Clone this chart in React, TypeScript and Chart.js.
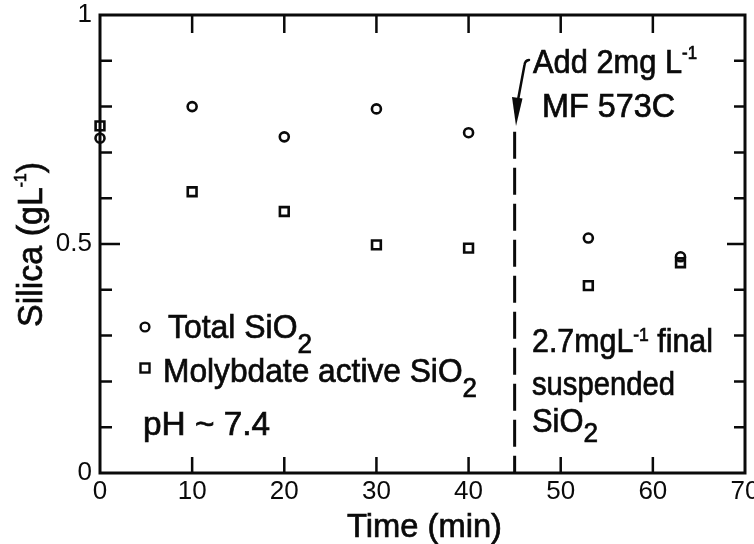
import React, { useEffect, useRef } from "react";
import { Chart, registerables } from "chart.js";

Chart.register(...registerables);

// ---- data ----
const times = [0, 10, 20, 30, 40, 53, 63];
const totalSiO2 = [0.731, 0.8, 0.734, 0.795, 0.743, 0.513, 0.472];
const molybdateSiO2 = [0.758, 0.614, 0.571, 0.498, 0.491, 0.409, 0.459];
const xTickValues = [0, 10, 20, 30, 40, 50, 60, 70];
const yLabelValues = [0, 0.5, 1];
const yLabelTexts = ["0", "0.5", "1"];
const yMinorValues = [0.1, 0.2, 0.3, 0.4, 0.5, 0.6, 0.7, 0.8, 0.9];
const additionTime = 45;
const dashTopValue = 0.745;

const FONT = '"Liberation Sans", Arial, sans-serif';
const INK = "#0a0a0a";

type Seg = { t: string; size: number; dy?: number };

function richText(
  ctx: CanvasRenderingContext2D,
  segs: Seg[],
  start: number,
  end: number,
  base: number,
  vertical = false
) {
  ctx.save();
  ctx.textAlign = "left";
  ctx.textBaseline = "alphabetic";
  ctx.fillStyle = INK;
  ctx.strokeStyle = INK;
  ctx.lineWidth = 0.7;
  const widths = segs.map((s) => {
    ctx.font = `${s.size}px ${FONT}`;
    return ctx.measureText(s.t).width;
  });
  const total = widths.reduce((a, b) => a + b, 0);
  const span = Math.abs(end - start);
  const sx = span / total;
  if (vertical) {
    ctx.translate(base, start);
    ctx.rotate(-Math.PI / 2);
  } else {
    ctx.translate(start, base);
  }
  ctx.scale(sx, 1);
  let x = 0;
  segs.forEach((s, i) => {
    ctx.font = `${s.size}px ${FONT}`;
    ctx.fillText(s.t, x, s.dy || 0);
    ctx.strokeText(s.t, x, s.dy || 0);
    x += widths[i];
  });
  ctx.restore();
}

const framePlugin = {
  id: "frameAndTicks",
  beforeDatasetsDraw(chart: any) {
    const ctx: CanvasRenderingContext2D = chart.ctx;
    const { left, right, top, bottom } = chart.chartArea;
    const xs = chart.scales.x;
    const ys = chart.scales.y;
    ctx.save();
    ctx.strokeStyle = INK;
    ctx.lineWidth = 3;
    ctx.strokeRect(left, top, right - left, bottom - top);
    ctx.lineWidth = 2.5;
    ctx.beginPath();
    xTickValues.forEach((v) => {
      if (v <= 0 || v >= 70) return;
      const px = xs.getPixelForValue(v);
      ctx.moveTo(px, bottom);
      ctx.lineTo(px, bottom - 16);
      ctx.moveTo(px, top);
      ctx.lineTo(px, top + 18);
    });
    yMinorValues.forEach((v) => {
      const py = ys.getPixelForValue(v);
      const major = Math.abs(v - 0.5) < 1e-6;
      ctx.moveTo(left, py);
      ctx.lineTo(left + (major ? 20 : 12), py);
      ctx.moveTo(right, py);
      ctx.lineTo(right - (major ? 18 : 11), py);
    });
    ctx.stroke();

    // dashed line at addition time
    const dx = xs.getPixelForValue(additionTime);
    ctx.lineWidth = 3;
    ctx.setLineDash([27, 9]);
    ctx.beginPath();
    ctx.moveTo(dx, ys.getPixelForValue(dashTopValue));
    ctx.lineTo(dx, bottom);
    ctx.stroke();
    ctx.setLineDash([]);
    ctx.restore();
  },
  afterDraw(chart: any) {
    const ctx: CanvasRenderingContext2D = chart.ctx;
    ctx.save();
    // arrow
    ctx.strokeStyle = INK;
    ctx.fillStyle = INK;
    ctx.lineWidth = 2.5;
    ctx.lineCap = "round";
    ctx.beginPath();
    ctx.moveTo(529, 60);
    ctx.quadraticCurveTo(525, 60.5, 524.5, 65);
    ctx.lineTo(518, 100);
    ctx.stroke();
    ctx.beginPath();
    ctx.moveTo(512, 97);
    ctx.lineTo(522.5, 98.5);
    ctx.lineTo(516, 126);
    ctx.closePath();
    ctx.fill();

    // legend markers
    ctx.lineWidth = 2.4;
    ctx.beginPath();
    ctx.arc(145, 327, 4.4, 0, Math.PI * 2);
    ctx.stroke();
    ctx.strokeRect(140.5, 363.5, 9, 9);
    ctx.restore();

    // annotation texts
    richText(ctx, [{ t: "Add 2mg L", size: 33 }, { t: "-1", size: 18, dy: -14 }], 533, 697, 73);
    richText(ctx, [{ t: "MF 573C", size: 33 }], 542, 675, 117);

    richText(ctx, [{ t: "Total SiO", size: 33 }, { t: "2", size: 27, dy: 15 }], 168, 312, 338);
    richText(ctx, [{ t: "Molybdate active SiO", size: 33 }, { t: "2", size: 27, dy: 15 }], 163, 477, 382);
    richText(ctx, [{ t: "pH ~ 7.4", size: 33 }], 143, 270, 435);

    richText(
      ctx,
      [{ t: "2.7mgL", size: 33 }, { t: "-1", size: 19, dy: -11 }, { t: " final", size: 33 }],
      532,
      713,
      352
    );
    richText(ctx, [{ t: "suspended", size: 33 }], 532, 675, 395);
    richText(ctx, [{ t: "SiO", size: 33 }, { t: "2", size: 28, dy: 10 }], 532, 598, 432);

    // axis titles
    richText(ctx, [{ t: "Time (min)", size: 33 }], 347, 502, 537);
    richText(
      ctx,
      [{ t: "Silica (gL", size: 35 }, { t: "-1", size: 16, dy: -16 }, { t: ")", size: 35 }],
      327,
      162,
      42,
      true
    );
  },
};

export default function App() {
  const ref = useRef<HTMLCanvasElement | null>(null);

  useEffect(() => {
    const canvas = ref.current;
    if (!canvas) return;
    const chart = new Chart(canvas, {
      type: "scatter",
      data: {
        datasets: [
          {
            label: "Total SiO2",
            data: times.map((t, i) => ({ x: t, y: totalSiO2[i] })),
            pointStyle: "circle",
            pointRadius: 4.5,
            pointBorderWidth: 2.6,
            borderColor: INK,
            backgroundColor: "rgba(0,0,0,0)",
            clip: false,
          } as any,
          {
            label: "Molybdate active SiO2",
            data: times.map((t, i) => ({ x: t, y: molybdateSiO2[i] })),
            pointStyle: "rect",
            pointRadius: 6.2,
            pointBorderWidth: 2.6,
            borderColor: INK,
            backgroundColor: "rgba(0,0,0,0)",
            clip: false,
          } as any,
        ],
      },
      options: {
        responsive: false,
        animation: false,
        events: [],
        layout: { padding: { top: 15, right: 9, left: 0, bottom: 0 } },
        plugins: { legend: { display: false }, tooltip: { enabled: false } },
        scales: {
          x: {
            type: "linear",
            position: "bottom",
            min: 0,
            max: 70,
            grid: { display: false, drawTicks: false },
            border: { display: false },
            ticks: {
              stepSize: 10,
              color: INK,
              font: { family: FONT, size: 26 },
              padding: 3,
              maxRotation: 0,
              autoSkip: false,
            },
            afterBuildTicks: (s: any) => {
              s.ticks = xTickValues.map((v) => ({ value: v }));
            },
            afterFit: (s: any) => {
              s.height = 71;
              s.paddingLeft = 0;
              s.paddingRight = 0;
            },
          },
          y: {
            type: "linear",
            min: 0,
            max: 1,
            grid: { display: false, drawTicks: false },
            border: { display: false },
            ticks: {
              color: INK,
              font: { family: FONT, size: 26 },
              padding: 8,
              autoSkip: false,
              callback: (v: any) => {
                const i = yLabelValues.indexOf(Number(v));
                return i >= 0 ? yLabelTexts[i] : "";
              },
            },
            afterBuildTicks: (s: any) => {
              s.ticks = yLabelValues.map((v) => ({ value: v }));
            },
            afterFit: (s: any) => {
              s.width = 100;
              s.paddingTop = 0;
              s.paddingBottom = 0;
            },
          },
        },
      } as any,
      plugins: [framePlugin as any],
    });
    return () => chart.destroy();
  }, []);

  return (
    <div style={{ position: "fixed", left: 0, top: 0, width: 754, height: 544, background: "#fff" }}>
      <canvas ref={ref} width={754} height={544} style={{ display: "block" }} />
    </div>
  );
}
